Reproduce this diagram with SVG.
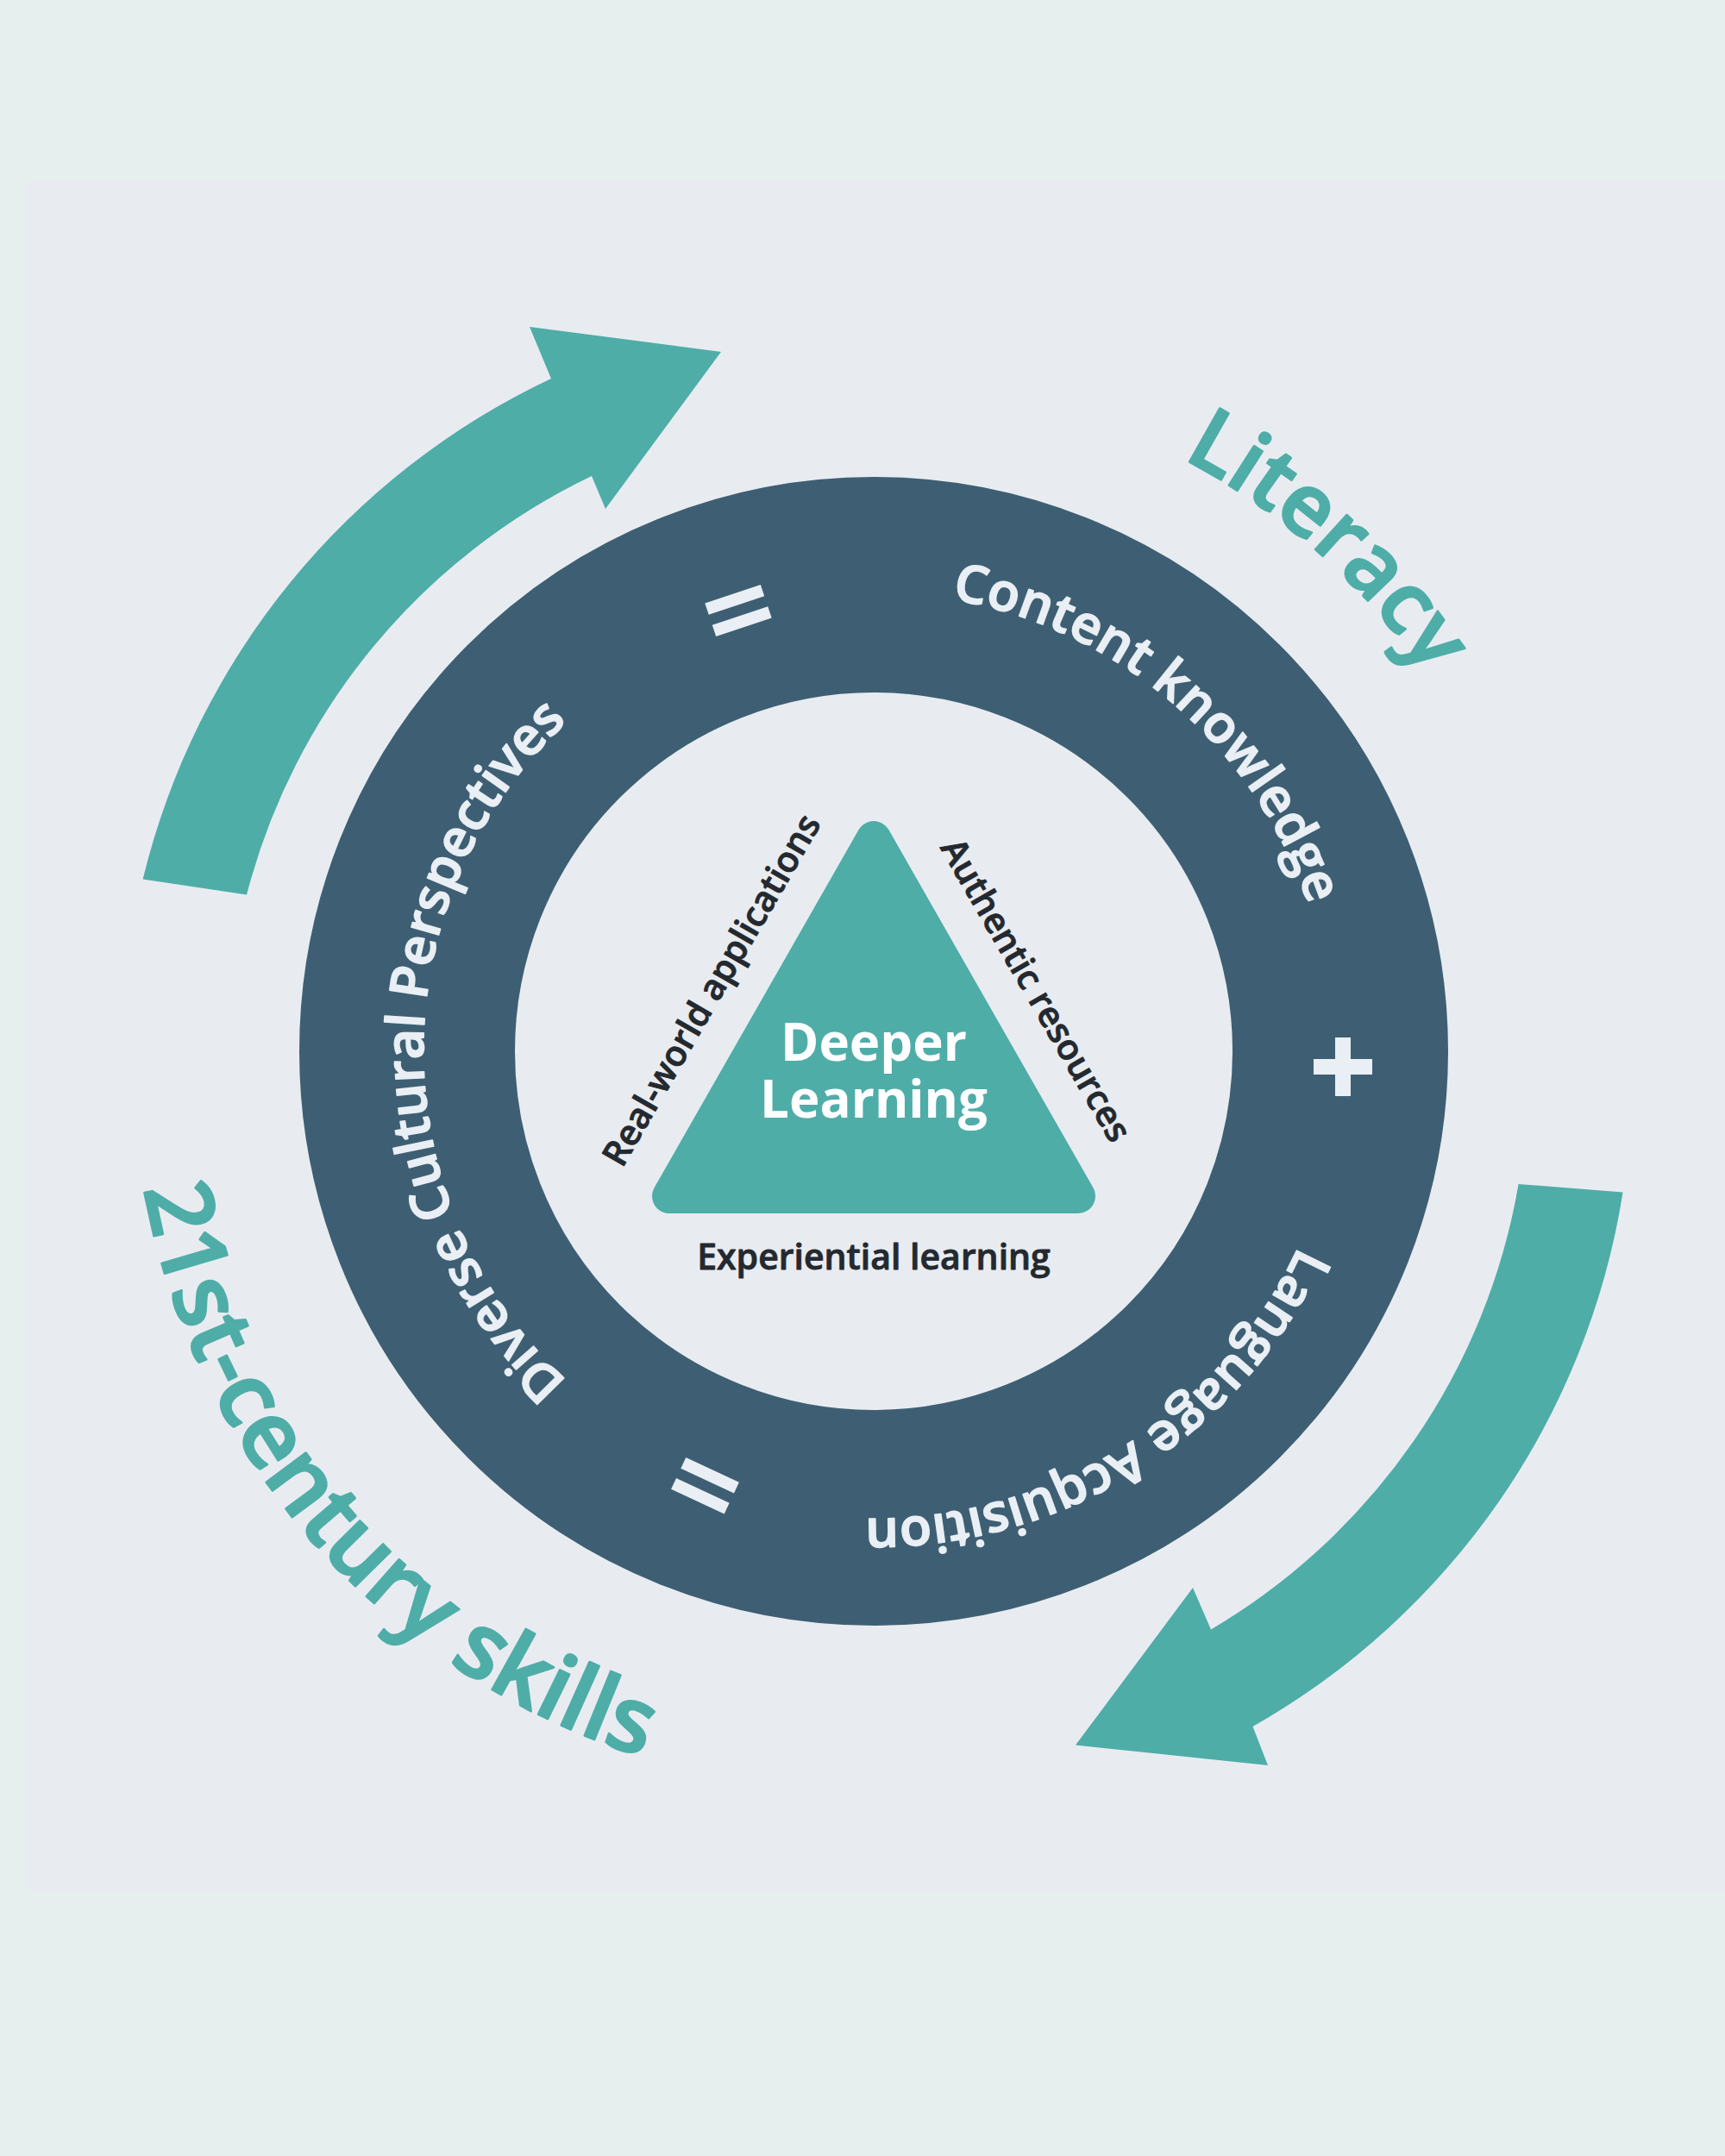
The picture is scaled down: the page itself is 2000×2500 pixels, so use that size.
<svg xmlns="http://www.w3.org/2000/svg" xmlns:xlink="http://www.w3.org/1999/xlink" width="2000" height="2500" viewBox="0 0 2000 2500">
  <defs>
    <style>
      .ring-text { font-family: "Open Sans", "Liberation Sans", sans-serif; font-weight: 600; font-size: 61px; fill: #e9eff4; stroke: #e9eff4; stroke-width: 1.6px; stroke-linejoin: round; }
      .outer-text { font-family: "Open Sans", "Liberation Sans", sans-serif; font-weight: 600; font-size: 100px; fill: #4fada8; stroke: #4fada8; stroke-width: 2.6px; stroke-linejoin: round; }
      .big { font-size: 106px; }
      .side-text { font-family: "Open Sans", "Liberation Sans", sans-serif; font-weight: 600; font-size: 41px; fill: #24292f; stroke: #24292f; stroke-width: 0.9px; stroke-linejoin: round; }
      .center-text { font-family: "Open Sans", "Liberation Sans", sans-serif; font-weight: 700; font-size: 60px; fill: #ffffff; }
      .teal { fill: #4fada8; }
      .bar { fill: #e9eff4; }
    </style>
    <path id="p-content" d="M 666.8 1623 A 532 532 0 0 1 1359.2 815 A 532 532 0 0 1 666.8 1623"/>
    <path id="p-diverse" d="M 1535 1219 A 522 522 0 0 1 491 1219 A 522 522 0 0 1 1535 1219"/>
    <path id="p-language" d="M 724.5 760.1 A 542 542 0 0 1 1301.5 1677.9 A 542 542 0 0 1 724.5 760.1"/>
    <path id="p-literacy" d="M 497.7 1797.9 A 775 775 0 0 1 1528.3 640.1 A 775 775 0 0 1 497.7 1797.9"/>
    <path id="p-skills" d="M 1662.1 648.8 A 864 864 0 0 0 363.9 1789.2 A 864 864 0 0 0 1662.1 648.8"/>
  </defs>

  <rect x="0" y="0" width="2000" height="2500" fill="#e7eeee"/>
  <rect x="32" y="209" width="1968" height="1983" fill="#e8ecf1"/>

  <g id="arrow-top-left">
    <path class="teal" d="M 165.6 1019.6 A 868 868 0 0 1 639 439 L 614 379 L 836 408 L 702 590 L 686 552 A 746 746 0 0 0 286 1037.5 Z"/>
  </g>
  <g id="arrow-bottom-right">
    <path class="teal" d="M 1881.6 1382.5 A 868 868 0 0 1 1452.5 2002 L 1470 2047 L 1247 2023.5 L 1383 1841 L 1404 1889.5 A 746 746 0 0 0 1760.6 1373 Z"/>
  </g>

  <g id="ring">
    <circle cx="1013" cy="1219" r="541" fill="none" stroke="#3e5f73" stroke-width="250"/>
  </g>

  <g id="content-knowledge">
    <text class="ring-text"><textPath xlink:href="#p-content" href="#p-content" startOffset="50%" text-anchor="middle">Content knowledge</textPath></text>
  </g>
  <g id="diverse-cultural-perspectives">
    <text class="ring-text"><textPath xlink:href="#p-diverse" href="#p-diverse" startOffset="50%" text-anchor="middle">Diverse Cultural Perspectives</textPath></text>
  </g>
  <g id="language-acquisition">
    <text class="ring-text"><textPath xlink:href="#p-language" href="#p-language" startOffset="50%" text-anchor="middle">Language Acquisition</textPath></text>
  </g>

  <g id="equals-top">
    <g transform="translate(856 708) rotate(-18.5)">
      <rect class="bar" x="-34" y="-20.3" width="68" height="14"/>
      <rect class="bar" x="-34" y="6.3" width="68" height="14"/>
    </g>
  </g>
  <g id="equals-bottom">
    <g transform="translate(817.5 1722.75) rotate(25)">
      <rect class="bar" x="-34" y="-20.3" width="68" height="14"/>
      <rect class="bar" x="-34" y="6.3" width="68" height="14"/>
    </g>
  </g>
  <g id="plus">
    <rect class="bar" x="1523" y="1228" width="68" height="18"/>
    <rect class="bar" x="1548" y="1203" width="18" height="68"/>
  </g>

  <g id="literacy">
    <text class="outer-text"><textPath xlink:href="#p-literacy" href="#p-literacy" startOffset="50%" text-anchor="middle">Literacy</textPath></text>
  </g>
  <g id="skills">
    <text class="outer-text big"><textPath xlink:href="#p-skills" href="#p-skills" startOffset="50%" text-anchor="middle">21st-century skills</textPath></text>
  </g>

  <g id="deeper-learning">
    <path class="teal" stroke="#4fada8" stroke-width="40" stroke-linejoin="round" d="M 1013 972 L 1250 1387 L 776 1387 Z"/>
    <text class="center-text" x="1013" y="1230" text-anchor="middle">Deeper</text>
    <text class="center-text" x="1013" y="1296" text-anchor="middle">Learning</text>
  </g>

  <g id="real-world">
    <text class="side-text" transform="translate(837 1155) rotate(-60)" text-anchor="middle">Real-world applications</text>
  </g>
  <g id="authentic">
    <text class="side-text" transform="translate(1189 1155) rotate(60)" text-anchor="middle">Authentic resources</text>
  </g>
  <g id="experiential">
    <text class="side-text" x="1013" y="1472" text-anchor="middle">Experiential learning</text>
  </g>
</svg>
